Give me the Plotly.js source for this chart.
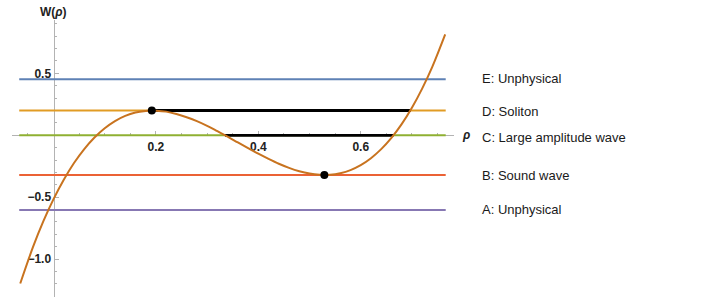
<!DOCTYPE html>
<html>
<head>
<meta charset="utf-8">
<script src="https://cdn.plot.ly/plotly-3.0.1.min.js"></script>
<style>html,body{margin:0;padding:0;background:#fff;}#chart{width:701px;height:297px;}</style>
</head>
<body>
<div id="chart"></div>
<script>
// Curve W(rho)
const rhoValues = [-0.065, -0.04, -0.02, 0, 0.02, 0.04, 0.06, 0.08, 0.10, 0.12, 0.14, 0.16, 0.18, 0.19, 0.20, 0.22, 0.24, 0.26, 0.28, 0.30, 0.32, 0.34, 0.36, 0.38, 0.40, 0.42, 0.44, 0.46, 0.48, 0.50, 0.52, 0.53, 0.54, 0.56, 0.58, 0.60, 0.62, 0.64, 0.66, 0.68, 0.70, 0.72, 0.74, 0.765];
const wValues = [-1.197, -0.902, -0.696, -0.516, -0.359, -0.224, -0.111, -0.018, 0.057, 0.115, 0.157, 0.184, 0.197, 0.200, 0.199, 0.191, 0.172, 0.146, 0.114, 0.076, 0.033, -0.011, -0.058, -0.104, -0.149, -0.191, -0.230, -0.263, -0.290, -0.309, -0.319, -0.320, -0.319, -0.306, -0.281, -0.241, -0.185, -0.112, -0.021, 0.090, 0.222, 0.377, 0.555, 0.815];

// Horizontal energy levels
const levelNames = ["E: Unphysical", "D: Soliton", "C: Large amplitude wave", "B: Sound wave", "A: Unphysical"];
const levelValues = [0.452, 0.200, 0.0, -0.320, -0.603];
const levelColors = ["#5E81B5", "#E19C24", "#8FB032", "#EB6235", "#8778B3"];
const levelLabelY = [0.455, 0.196, -0.018, -0.321, -0.603];
const levelXStart = -0.067;
const levelXEnd = 0.766;

// Black segments (bounded motion)
const segStart = [0.192, 0.335];
const segEnd = [0.698, 0.664];
const segLevel = [0.200, 0.0];

// Extremum points
const extremaRho = [0.192, 0.529];
const extremaW = [0.200, -0.320];

// Ticks
const xTickVals = [0.2, 0.4, 0.6];
const xTickText = ["0.2", "0.4", "0.6"];
const xMinorVals = [-0.05, 0.05, 0.1, 0.15, 0.25, 0.3, 0.35, 0.45, 0.5, 0.55, 0.65, 0.7, 0.75];
const yTickVals = [0.5, -0.5, -1.0];
const yTickText = ["0.5", "\u22120.5", "\u22121.0"];
const yMinorVals = [0.9, 0.8, 0.7, 0.6, 0.4, 0.3, 0.2, 0.1, -0.1, -0.2, -0.3, -0.4, -0.6, -0.7, -0.8, -0.9, -1.1, -1.2, -1.3];

const xRange = [-0.0811, 0.7822];
const yRange = [-1.306, 0.931];

const traces = [];
levelValues.forEach((v, i) => {
  traces.push({
    x: [levelXStart, levelXEnd], y: [v, v], mode: 'lines', type: 'scatter',
    line: {color: levelColors[i], width: 2}, hoverinfo: 'skip', showlegend: false
  });
});
segStart.forEach((s, i) => {
  traces.push({
    x: [s, segEnd[i]], y: [segLevel[i], segLevel[i]], mode: 'lines', type: 'scatter',
    line: {color: '#000000', width: 2.8}, hoverinfo: 'skip', showlegend: false
  });
});
traces.push({
  x: rhoValues, y: wValues, mode: 'lines', type: 'scatter',
  line: {color: '#C8731F', width: 2, shape: 'spline', smoothing: 1},
  hoverinfo: 'skip', showlegend: false
});
traces.push({
  x: extremaRho, y: extremaW, mode: 'markers', type: 'scatter',
  marker: {color: '#000000', size: 8}, hoverinfo: 'skip', showlegend: false
});

const axisColor = '#b3b3b3';
const tickFont = {family: 'Liberation Sans, Arial, sans-serif', size: 12, color: '#222', weight: 'bold'};

const annotations = levelNames.map((t, i) => ({
  text: t, xref: 'paper', yref: 'y', x: 1.0588, y: levelLabelY[i],
  xanchor: 'left', yanchor: 'middle', showarrow: false,
  font: {family: 'Liberation Sans, Arial, sans-serif', size: 13, color: '#1a1a1a'}
}));
annotations.push({
  text: '<b><i>ρ</i></b>', xref: 'paper', yref: 'y', x: 1.027, y: 0,
  xanchor: 'center', yanchor: 'middle', showarrow: false,
  font: {family: 'Liberation Sans, Arial, sans-serif', size: 12, color: '#222'}
});
annotations.push({
  text: '<b>W(<i>ρ</i>)</b>', xref: 'x', yref: 'paper', x: 0, y: 1.03,
  xanchor: 'center', yanchor: 'middle', showarrow: false,
  font: {family: 'Liberation Sans, Arial, sans-serif', size: 12, color: '#222'}
});

const layout = {
  width: 701, height: 297,
  margin: {l: 12, r: 247, t: 20, b: 0},
  paper_bgcolor: '#ffffff', plot_bgcolor: '#ffffff',
  showlegend: false,
  xaxis: {
    range: xRange, anchor: 'free', position: (0 - yRange[0]) / (yRange[1] - yRange[0]),
    showline: true, linecolor: axisColor, linewidth: 1, layer: 'below traces',
    showgrid: false, zeroline: false,
    ticks: 'inside', ticklen: 4, tickcolor: axisColor, tickwidth: 1,
    tickmode: 'array', tickvals: xTickVals, ticktext: xTickText, tickfont: tickFont,
    minor: {tickmode: 'array', tickvals: xMinorVals, ticks: 'inside', ticklen: 2.5, tickcolor: axisColor, showgrid: false}
  },
  yaxis: {
    range: yRange, anchor: 'free', position: (0 - xRange[0]) / (xRange[1] - xRange[0]),
    showline: true, linecolor: axisColor, linewidth: 1, layer: 'below traces',
    showgrid: false, zeroline: false,
    ticks: 'inside', ticklen: 4, tickcolor: axisColor, tickwidth: 1,
    tickmode: 'array', tickvals: yTickVals, ticktext: yTickText, tickfont: tickFont,
    minor: {tickmode: 'array', tickvals: yMinorVals, ticks: 'inside', ticklen: 2.5, tickcolor: axisColor, showgrid: false}
  },
  annotations: annotations
};

Plotly.newPlot('chart', traces, layout, {displayModeBar: false, staticPlot: true});
</script>
</body>
</html>
